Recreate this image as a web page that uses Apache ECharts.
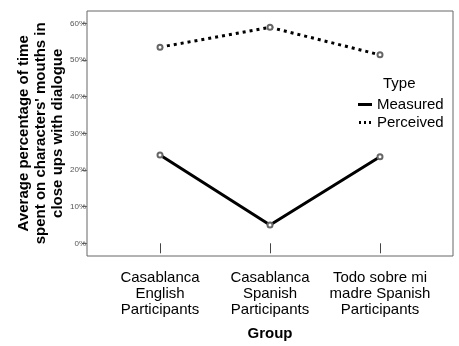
<!DOCTYPE html>
<html><head><meta charset="utf-8">
<script src="https://cdn.jsdelivr.net/npm/echarts@6/dist/echarts.min.js"></script>
<style>html,body{margin:0;padding:0;background:#fff}#c{width:459px;height:346px}</style>
</head><body><div id="c"></div>
<script>
const categories = ['Casablanca\nEnglish\nParticipants', 'Casablanca\nSpanish\nParticipants', 'Todo sobre mi\nmadre Spanish\nParticipants'];
const measured = [24.1, 5.0, 23.6];
const perceived = [53.5, 58.9, 51.4];
const yTicks = [0, 10, 20, 30, 40, 50, 60];
const seriesNames = ['Measured', 'Perceived'];
const font = 'Arial, "Liberation Sans", sans-serif';

const chart = echarts.init(document.getElementById('c'), null, {renderer: 'canvas'});
chart.setOption({
  animation: false,
  backgroundColor: '#fff',
  title: {text: 'Type', left: 378, top: 71, textStyle: {fontFamily: font, fontSize: 15, fontWeight: 'normal', color: '#000'}},
  legend: {
    orient: 'vertical', left: 353, top: 92, itemWidth: 14, itemHeight: 3, itemGap: 3,
    textStyle: {fontFamily: font, fontSize: 15, color: '#000'},
    itemStyle: {color: '#000', borderWidth: 0},
    lineStyle: {width: 0},
    data: [
      {name: seriesNames[0], icon: 'path://M0,0H14V3H0Z', itemStyle: {color: '#000', borderWidth: 0}},
      {name: seriesNames[1], icon: 'path://M1,0H3V3H1ZM6,0H8V3H6ZM11,0H13V3H11Z', itemStyle: {color: '#000', borderWidth: 0}}
    ]
  },
  grid: [
    {left: 87, top: 11, width: 366, height: 245, show: true, borderColor: '#666', borderWidth: 1, backgroundColor: '#fff'},
    {left: 160, top: 23.3, width: 220, height: 221}
  ],
  xAxis: [
    {gridIndex: 0, type: 'value', show: false, min: 0, max: 1},
    {gridIndex: 1, type: 'category', data: categories, boundaryGap: false, offset: 11.7,
     axisLine: {show: false},
     axisTick: {show: true, length: 10, lineStyle: {color: '#444', width: 1}},
     axisLabel: {interval: 0, margin: 15, fontFamily: font, fontSize: 15, lineHeight: 16, color: '#000'},
     name: 'Group', nameLocation: 'middle', nameGap: 71,
     nameTextStyle: {fontFamily: font, fontSize: 15, fontWeight: 'bold', color: '#000'}}
  ],
  yAxis: [
    {gridIndex: 0, type: 'value', show: false, min: 0, max: 1},
    {gridIndex: 1, type: 'value', min: yTicks[0], max: yTicks[yTicks.length - 1], interval: 10, offset: 73,
     splitLine: {show: false},
     axisLine: {show: false},
     axisTick: {show: true, length: 5, lineStyle: {color: '#666'}},
     axisLabel: {margin: 1, fontFamily: font, fontSize: 8, color: '#555', formatter: v => v + '%'},
     name: 'Average percentage of time\nspent on characters\' mouths in\nclose ups with dialogue',
     nameLocation: 'middle', nameGap: 20,
     nameTextStyle: {fontFamily: font, fontSize: 15, fontWeight: 'bold', lineHeight: 17, color: '#000', align: 'center'}}
  ],
  series: [
    {name: seriesNames[0], type: 'line', xAxisIndex: 1, yAxisIndex: 1, data: measured,
     symbol: 'emptyCircle', symbolSize: 5, z: 3,
     lineStyle: {color: '#000', width: 3, type: 'solid'},
     itemStyle: {color: '#666', borderWidth: 1}},
    {name: seriesNames[1], type: 'line', xAxisIndex: 1, yAxisIndex: 1, data: perceived,
     symbol: 'emptyCircle', symbolSize: 5, z: 3,
     lineStyle: {color: '#000', width: 3, type: [3, 4]},
     itemStyle: {color: '#666', borderWidth: 1}}
  ]
});
</script></body></html>
